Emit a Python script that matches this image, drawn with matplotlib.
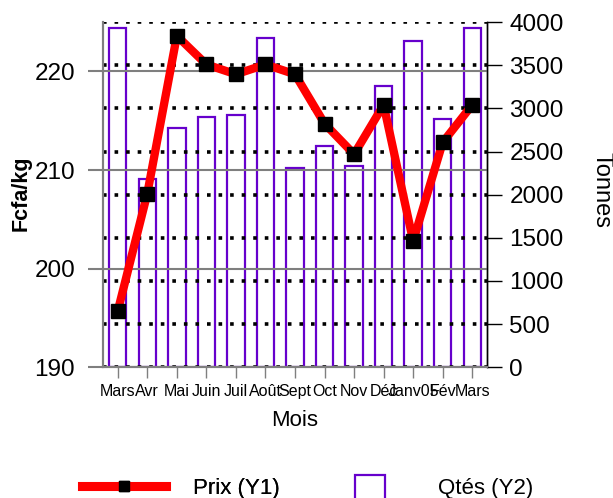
import matplotlib
matplotlib.use("Agg")
import matplotlib.pyplot as plt
from matplotlib.lines import Line2D
from matplotlib.patches import Patch

plt.rcParams['font.family'] = ['Liberation Sans', 'DejaVu Sans']

# données
mois = ["Mars", "Avr", "Mai", "Juin", "Juil", "Août", "Sept", "Oct",
        "Nov", "Déc", "Janv05", "Fév", "Mars"]
prix = [195.7, 207.6, 223.6, 220.7, 219.7, 220.7, 219.7, 214.7,
        211.6, 216.6, 202.8, 212.8, 216.6]
qtes = [3930, 2180, 2770, 2900, 2920, 3820, 2310, 2565,
        2335, 3260, 3775, 2880, 3925]
prix_ticks = [190, 200, 210, 220]
qtes_ticks = list(range(0, 4001, 500))

violet = '#6600cc'
gris = '#7f7f7f'

fig = plt.figure(figsize=(6.13, 4.98), dpi=100)
ax1 = fig.add_axes([0.168, 0.2624, 0.6265, 0.6934])
ax2 = ax1.twinx()

x = list(range(len(mois)))

# quantités (axe de droite)
ax2.bar(x, qtes, width=0.59, fill=False, edgecolor=violet, linewidth=1.6)
ax2.set_ylim(0, 4000)
ax2.set_yticks(qtes_ticks)
ax2.grid(axis='y', color='black', linestyle=(0, (1, 2.2)), linewidth=2.6,
         dash_capstyle='butt')
ax2.tick_params(axis='y', length=11, width=1, color='black', pad=5,
                labelsize=17.5)

# prix (axe de gauche)
ax1.set_zorder(ax2.get_zorder() + 1)
ax1.patch.set_visible(False)
ax1.plot(x, prix, color='red', linewidth=6, marker='s', markersize=10.5,
         markerfacecolor='black', markeredgecolor='black', zorder=5)
ax1.set_ylim(190, 225)
ax1.set_xlim(-0.5, len(mois) - 0.5)
ax1.set_yticks(prix_ticks)
ax1.grid(axis='y', color=gris, linewidth=1.5)
ax1.tick_params(axis='y', length=11, width=1.5, color=gris, pad=9,
                labelsize=17.5)

ax1.set_xticks(x)
ax1.set_xticklabels(mois)
ax1.set_xticks(x[1::2], minor=True)
ax1.grid(axis='x', which='minor', color='black', linewidth=0.9)
ax1.tick_params(axis='x', which='major', length=8, width=1, color=gris,
                pad=4, labelsize=11.5)
ax1.tick_params(axis='x', which='minor', length=0)

for ax in (ax1, ax2):
    ax.spines['top'].set_visible(False)
    ax.spines['left'].set_color(gris)
    ax.spines['left'].set_linewidth(1.5)
    ax.spines['bottom'].set_color(gris)
    ax.spines['bottom'].set_linewidth(1.5)
    ax.spines['right'].set_color('black')
    ax.spines['right'].set_linewidth(1)

fig.text(21 / 613, 1 - 193 / 498, 'Fcfa/kg', rotation=90, ha='center',
         va='center', fontsize=15.5, fontweight='bold')
fig.text(601 / 613, 1 - 190 / 498, 'Tonnes', rotation=-90, ha='center',
         va='center', fontsize=17)
fig.text(295 / 613, 1 - 420 / 498, 'Mois', ha='center', va='center',
         fontsize=16)

# légende
h1 = Line2D([], [], color='red', linewidth=6.5, marker='s', markersize=6.5,
            markerfacecolor='black', markeredgecolor='black')
leg1 = fig.legend(handles=[h1], labels=['Prix (Y1)'], loc='center left',
                  bbox_to_anchor=(82 / 613, 1 - 488 / 498), frameon=False,
                  fontsize=16, handlelength=3.8, handletextpad=1.2,
                  borderpad=0, borderaxespad=0)
h2 = Patch(facecolor='none', edgecolor=violet, linewidth=1.6)
leg2 = fig.legend(handles=[h2], labels=['Qtés (Y2)'], loc='center left',
                  bbox_to_anchor=(355 / 613, 1 - 487 / 498), frameon=False,
                  fontsize=16, handlelength=1.35, handleheight=1.35,
                  handletextpad=2.4, borderpad=0, borderaxespad=0)
fig.add_artist(leg1)

fig.savefig('out.png', dpi=100)
